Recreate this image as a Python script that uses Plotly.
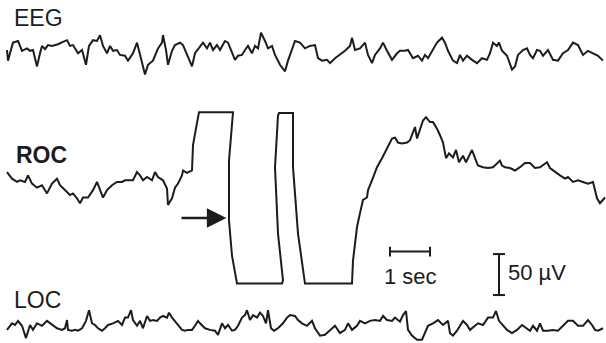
import plotly.graph_objects as go

# ---- data (time in ms, amplitude in µV re. trace baseline) ----
eeg_t = [175, 200, 250, 325, 450, 550, 675, 750, 825, 925, 1000, 1050, 1125, 1200, 1300, 1375, 1450, 1575, 1675, 1750,
         1825, 1950, 2050, 2150, 2225, 2325, 2425, 2500, 2575, 2675, 2750, 2825, 2925, 3000, 3125, 3200, 3325, 3425,
         3500, 3625, 3700, 3825, 3950, 4050, 4075, 4150, 4200, 4300, 4375, 4500, 4575, 4675, 4800, 4875, 5000, 5075,
         5175, 5250, 5325, 5425, 5500, 5625, 5700, 5800, 5875, 5950, 6050, 6125, 6200, 6300, 6375, 6450, 6525, 6625,
         6700, 6800, 6875, 7000, 7125, 7200, 7300, 7375, 7500, 7625, 7750, 7875, 7950, 8050, 8175, 8250, 8375, 8500,
         8625, 8750, 8800, 8875, 9000, 9125, 9200, 9300, 9375, 9500, 9575, 9675, 9800, 9925, 10000, 10125, 10200,
         10325, 10450, 10550, 10625, 10700, 10800, 10925, 11050, 11125, 11200, 11325, 11425, 11500, 11575, 11675,
         11800, 11925, 12050, 12175, 12250, 12325, 12425, 12475, 12550, 12675, 12800, 12875, 12950, 13075, 13175,
         13250, 13325, 13425, 13500, 13575, 13700, 13825, 13950, 14075, 14200, 14325, 14450, 14575, 14700, 14825,
         14950, 15075]
eeg_uv = [0, -13, -4, 9, 11, -1, 2, -1, 0, -20, -4, 5, 1, 6, 5, 6, 7, 10, 12, 5,
          6, -4, 0, -18, 5, 12, 11, 18, 5, -4, 5, -1, 0, -6, -7, -13, -4, 9,
          -6, -30, -18, -13, 2, 9, 18, 0, -18, -1, 6, 9, 6, -6, -20, -4, 5, 9,
          2, 9, 0, 6, 0, 11, 9, -4, -12, -7, -6, 0, 5, -4, 5, 2, 21, 11,
          2, 5, -6, -18, -26, -13, 2, 11, 9, 2, 5, 6, -10, -13, -12, -16, -10, -6,
          -1, 5, 15, 0, 2, 9, -6, -16, -6, 2, 9, -1, -12, -4, -1, -1, 0,
          -10, -7, -13, -6, -10, -1, 9, 15, 9, -1, -13, -16, -6, -13, -7,
          -12, -16, -10, -12, -4, 9, 5, 9, -1, -7, -24, -20, -6, 0, 2,
          -6, -10, 0, -1, -7, 0, -12, -13, -4, 0, 9, 6, -6, -1, -4,
          -7, -13]

roc_t = [175, 300, 425, 500, 625, 700, 800, 925, 1050, 1175, 1300, 1425, 1500, 1625, 1750, 1825, 1925, 2000, 2075,
         2200, 2325, 2425, 2500, 2575, 2675, 2800, 2925, 3050, 3125, 3250, 3325, 3425, 3500, 3575, 3675, 3800, 3875,
         3950, 4075, 4175, 4200, 4300, 4375, 4450, 4550, 4575, 4675, 4800, 4825, 4925, 4975, 5825, 5725, 5725, 5800,
         5925, 7050, 7075, 6950, 6875, 6950, 6975, 7325, 7325, 7450, 7625, 8800, 8825, 8925, 9000, 9075, 9175, 9200,
         9300, 9425, 9550, 9675, 9800, 9875, 9950, 10050, 10175, 10250, 10325, 10375, 10425, 10500, 10575, 10650,
         10750, 10825, 10925, 11000, 11075, 11150, 11225, 11325, 11400, 11475, 11575, 11650, 11700, 11800, 11875,
         11950, 12075, 12200, 12325, 12425, 12500, 12550, 12625, 12750, 12875, 13000, 13125, 13250, 13375, 13500,
         13675, 13750, 13875, 14000, 14125, 14200, 14325, 14450, 14575, 14700, 14825, 14925, 15000, 15125]
roc_uv = [10, 2, -2, 0, -2, 6, -4, -9, -6, -16, -4, 2, -6, -12, -18, -16, -22, -28, -21,
          -21, -12, -2, -12, -21, -12, -6, -2, -2, 0, 0, 0, 10, 6, 0, 4, 0, 10,
          4, 0, -10, -30, -22, -9, -4, 6, 12, 9, 12, 43, 70, 83, 83, 24, -49, -92,
          -126, -126, -122, -65, 16, 79, 82, 82, 16, -65, -126, -126, -98, -57, -40, -24, -21, -12,
          0, 16, 27, 40, 51, 52, 46, 45, 46, 49, 59, 65, 51, 61, 73, 77,
          71, 71, 63, 55, 46, 27, 33, 28, 37, 22, 30, 22, 27, 37, 27,
          18, 16, 15, 16, 21, 24, 18, 16, 15, 12, 16, 21, 21, 15, 16,
          22, 15, 10, 6, 2, 4, -2, 0, -2, -4, -2, -22, -28, -21]

loc_t = [175, 300, 375, 450, 550, 650, 750, 825, 925, 1050, 1175, 1250, 1325, 1425, 1550, 1625, 1675, 1700, 1800,
         1875, 1950, 2050, 2150, 2225, 2300, 2375, 2450, 2550, 2625, 2700, 2825, 2950, 3050, 3125, 3200, 3275, 3325,
         3425, 3500, 3575, 3675, 3750, 3825, 3925, 4000, 4075, 4175, 4225, 4300, 4375, 4450, 4550, 4625, 4700, 4800,
         4875, 4950, 5000, 5125, 5250, 5375, 5450, 5550, 5625, 5700, 5800, 5875, 5950, 6050, 6125, 6175, 6250, 6325,
         6425, 6500, 6575, 6650, 6700, 6775, 6850, 6950, 7075, 7175, 7250, 7375, 7450, 7550, 7675, 7800, 7875, 8000,
         8125, 8250, 8375, 8500, 8625, 8700, 8800, 8925, 9000, 9125, 9250, 9375, 9500, 9575, 9675, 9800, 9875, 10000,
         10075, 10150, 10200, 10300, 10425, 10550, 10625, 10700, 10825, 10950, 11075, 11200, 11250, 11325, 11425,
         11500, 11575, 11675, 11750, 11875, 11950, 12075, 12200, 12325, 12400, 12475, 12575, 12675, 12800, 12925,
         13050, 13175, 13250, 13325, 13425, 13500, 13575, 13700, 13825, 13950, 14075, 14200, 14325, 14450, 14575,
         14700, 14800, 14875, 14950, 15075]
loc_uv = [-6, 2, 0, 5, -1, -16, 0, -6, 2, -1, 5, 2, 0, -4, -6, -4, 6, -6, -7,
          -6, -7, -4, 5, 18, 2, 0, -4, -7, -4, 0, 2, 5, 0, 9, 9, 18, 6,
          -1, 5, -4, 11, 5, 6, 5, 9, 11, 9, 15, 9, 5, 0, -6, -7, -6, -6,
          -1, 5, 2, -4, -6, -7, -12, 2, -4, 0, -7, -6, -1, 9, 12, 18, 6, 12,
          9, 15, 11, 2, 18, -4, -7, -4, 2, 9, 12, 11, 6, 2, -1, 5, -4, -13,
          -12, -7, -1, -10, -6, 2, -6, -1, 5, 2, 5, 6, 5, 11, 6, 5, 9, 4,
          12, 17, -6, -13, -18, -18, -10, -1, 2, 6, 0, 5, -10, -13, -7,
          -1, 5, 0, -6, -1, 2, 0, 9, 9, 17, 5, 0, -6, -10, -6,
          0, -4, -7, -1, -7, 2, -7, -7, -6, -7, -1, 5, 5, -1, -1,
          6, 0, -6, -7, -4]

channel_labels = ["EEG", "ROC", "LOC"]
scale_time_ms = 1000
scale_amp_uv = 50
scale_time_label = "1 sec"
scale_amp_label = "50 µV"

# ---- layout constants (positions / styles) ----
W, H = 606, 343
X_RANGE = [0, 15150]          # ms across the width
Y_RANGE = [-418.5, 0]         # µV down the height
offsets = {"EEG": -61, "ROC": -220, "LOC": -396.5}
INK = "#1c1c1c"
LW = 2.0
FONT = "Liberation Sans, Arial, sans-serif"

fig = go.Figure()
for name, t, v in [("EEG", eeg_t, eeg_uv), ("ROC", roc_t, roc_uv), ("LOC", loc_t, loc_uv)]:
    fig.add_trace(go.Scatter(x=t, y=[a + offsets[name] for a in v], mode="lines",
                             line=dict(color=INK, width=LW), hoverinfo="skip", showlegend=False))

# channel labels
label_pos = {"EEG": (300, -22), "ROC": (350, -189), "LOC": (300, -366)}
for name in channel_labels:
    lx, ly = label_pos[name]
    txt = f"<b>{name}</b>" if name == "ROC" else name
    fig.add_annotation(x=lx, y=ly, text=txt, showarrow=False, xanchor="left", yanchor="middle",
                       font=dict(family=FONT, size=23, color=INK))

# time scale bar
tb_x0, tb_y = 9750, -307
tick_h = 6
fig.add_shape(type="line", x0=tb_x0, x1=tb_x0 + scale_time_ms, y0=tb_y, y1=tb_y, line=dict(color=INK, width=2))
for xx in (tb_x0, tb_x0 + scale_time_ms):
    fig.add_shape(type="line", x0=xx, x1=xx, y0=tb_y - tick_h, y1=tb_y + tick_h, line=dict(color=INK, width=2))
fig.add_annotation(x=tb_x0 + scale_time_ms / 2, y=-337, text=scale_time_label, showarrow=False,
                   xanchor="center", yanchor="middle", font=dict(family=FONT, size=22, color=INK))

# amplitude scale bar
ab_x, ab_y0 = 12475, -360
tick_w = 150
fig.add_shape(type="line", x0=ab_x, x1=ab_x, y0=ab_y0, y1=ab_y0 + scale_amp_uv, line=dict(color=INK, width=2))
for yy in (ab_y0, ab_y0 + scale_amp_uv):
    fig.add_shape(type="line", x0=ab_x - tick_w, x1=ab_x + tick_w, y0=yy, y1=yy, line=dict(color=INK, width=2))
fig.add_annotation(x=12650, y=-333, text=scale_amp_label, showarrow=False, xanchor="left", yanchor="middle",
                   font=dict(family=FONT, size=22, color=INK))

# arrow pointing at the ROC deflection
fig.add_annotation(x=5660, y=-266, ax=4500, ay=-266, xref="x", yref="y", axref="x", ayref="y",
                   text="", showarrow=True, arrowhead=2, arrowsize=1.5, arrowwidth=2.6, arrowcolor=INK)

fig.update_xaxes(range=X_RANGE, visible=False, fixedrange=True)
fig.update_yaxes(range=Y_RANGE, visible=False, fixedrange=True)
fig.update_layout(width=W, height=H, autosize=False, margin=dict(l=0, r=0, t=0, b=0),
                  paper_bgcolor="white", plot_bgcolor="white")
fig.write_html("out.html", config={"displayModeBar": False},
               post_script="document.body.style.margin='0';document.body.style.overflow='hidden';")
